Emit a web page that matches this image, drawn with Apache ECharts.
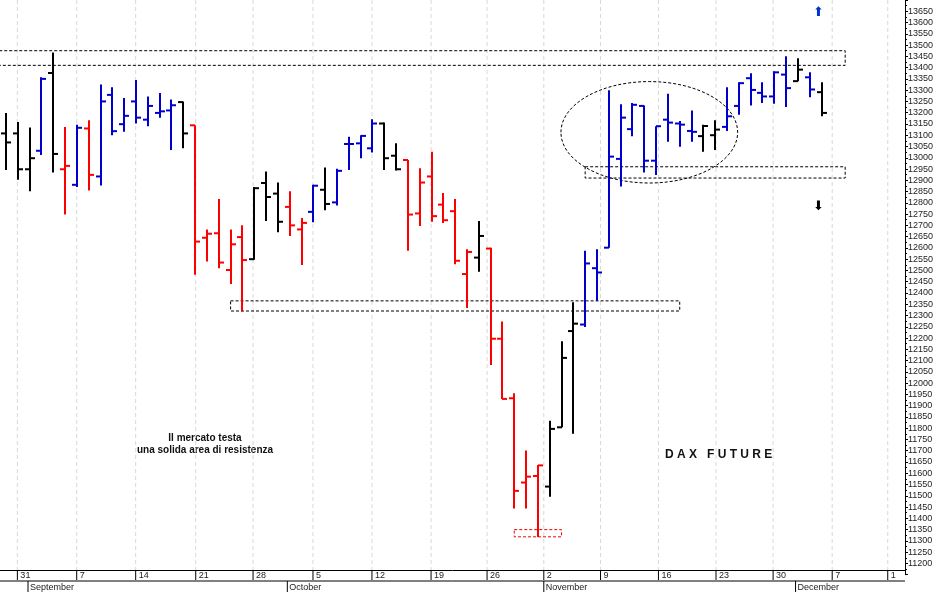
<!DOCTYPE html>
<html><head><meta charset="utf-8">
<script src="https://cdn.jsdelivr.net/npm/echarts@6/dist/echarts.min.js"></script>
<style>html,body{margin:0;padding:0;background:#fff}#c{width:941px;height:592px}</style>
</head><body><div id="c"></div>
<script>
// bar index, open, high, low, close
const opens  = [13108,13108,12949,13031,13376,12949,12880,13130,12917,13279,13149,13250,13169,13199,13210,13247,13144,12645,12665,12502,12648,12550,12888,12841,12782,12682,12760,12858,12802,13061,13064,13042,13152,13009,12990,12753,12917,12792,12763,12484,12557,12597,12197,11933,11559,11588,11541,11804,12231,12260,12510,12601,12995,13127,13230,12987,13169,13152,13119,13096,13100,13137,13230,13353,13288,13272,13369,13340,13357,13291];
const highs  = [13199,13159,13134,13357,13467,13137,13147,13166,13325,13313,13265,13345,13272,13287,13259,13250,13144,12682,12817,12682,12701,12870,12939,12890,12851,12733,12880,12957,12951,13093,13100,13171,13156,13064,12990,12954,13027,12844,12817,12594,12719,12601,12274,11955,11701,11637,11833,12186,12359,12587,12594,13299,13237,13243,13232,13140,13284,13163,13210,13147,13166,13313,13335,13375,13335,13384,13450,13442,13379,13335];
const lows   = [12946,12902,12851,13012,12935,12748,12870,12855,12877,13100,13115,13152,13140,13178,13034,13042,12481,12540,12510,12440,12318,12547,12719,12670,12653,12524,12714,12767,12788,12946,12998,13023,12946,12943,12587,12697,12716,12711,12528,12333,12494,12080,11930,11444,11444,11317,11496,11804,11775,12249,12366,12601,12873,13096,12935,12924,13071,13049,13071,13027,13034,13119,13191,13232,13243,13240,13225,13340,13269,13184];
const closes = [13068,12949,12998,13350,13017,12964,13133,12924,13250,13118,13186,13178,13230,13206,13233,13108,12628,12663,12535,12616,12546,12865,12826,12716,12700,12711,12876,12795,12942,13061,13097,13152,12998,12949,12748,12890,12741,12723,12543,12582,12653,12197,11930,11522,11585,11635,11797,12112,12264,12531,12491,13005,13178,13235,12987,13140,13156,13147,13115,13141,13125,13184,13331,13301,13272,13379,13309,13391,13303,13199];
const trend  = "KKKBKRBRBBBBBBBKRRRRRKKKRRBKBBBBKKRRRRRRKRRRRRKKKBBBBBBBBBBKKBBBBBBKBKK";
const dateTickPos = [0.96,5.98,10.97,16.05,20.9,25.97,30.96,35.96,40.7,45.5,50.3,55.2,60.07,64.9,69.9,74.6];
const dateTickLabels = ["31","7","14","21","28","5","12","19","26","2","9","16","23","30","7","1"];
const monthPos = [1.86,23.8,45.5,66.8];
const monthLabels = ["September","October","November","December"];
// boxes: [i0, i1, vLow, vHigh, colour]
const boxes = [[-1,71,13410,13475,'#000'],[49,71,12910,12960,'#000'],[19,57,12320,12365,'#000'],[43,47,11318,11350,'#e00']];
const ellipse = [46.95,61.9,12888,13338];

const colMap = {K:'#000000',B:'#0000cc',R:'#ff0000'};
const ohlc = opens.map((o,i)=>[i,o,highs[i],lows[i],closes[i],trend[i]]);
const XMIN=-0.51, XMAX=76.06;

const chart = echarts.init(document.getElementById('c'));
chart.setOption({
  animation:false,
  grid:[{left:0,right:36,top:-4.5,bottom:17.3},{left:0,right:36,top:0,bottom:22}],
  xAxis:[{type:'value',min:XMIN,max:XMAX,gridIndex:0,show:false},
         {type:'value',min:XMIN,max:XMAX,gridIndex:1,axisLine:{show:true,onZero:false,lineStyle:{color:'#000'}},axisTick:{show:false},axisLabel:{show:false},splitLine:{show:false}}],
  yAxis:[{type:'value',gridIndex:0,position:'right',min:11150,max:13700,interval:50,
          axisLine:{show:true,onZero:false,lineStyle:{color:'#000'}},axisTick:{show:true,length:3,lineStyle:{color:'#000'}},
          minorTick:{show:true,splitNumber:2,length:2,lineStyle:{color:'#000'}},
          splitLine:{show:false},
          axisLabel:{fontSize:9,fontFamily:'Liberation Sans Narrow, Liberation Sans',color:'#222',margin:3,
            formatter:v=>(v<11200||v>13650)?'':String(v)}},
         {type:'value',gridIndex:1,min:0,max:1,show:false}],
  series:[
    {type:'custom',xAxisIndex:1,yAxisIndex:1,clip:false,silent:true,z:1,
     data:dateTickPos.map((p,k)=>[p,k]),
     renderItem:(params,api)=>{
       const k=api.value(1), a=api.coord([api.value(0),1]), b=api.coord([api.value(0),0]);
       const ch=[{type:'line',shape:{x1:a[0],y1:a[1],x2:b[0],y2:b[1]},style:{stroke:'#d8d8d8',lineWidth:1,lineDash:[4,3]}},
         {type:'line',shape:{x1:b[0],y1:b[1],x2:b[0],y2:b[1]+10},style:{stroke:'#000',lineWidth:1}},
         {type:'text',x:b[0]+3,y:b[1]+1,style:{text:dateTickLabels[k],fontSize:9,fontFamily:'Liberation Sans',fill:'#222'}}];
       if(k===0){ch.push({type:'line',shape:{x1:0,y1:b[1]+11,x2:905,y2:b[1]+11},style:{stroke:'#000',lineWidth:1}});}
       return {type:'group',children:ch};
     }},
    {type:'custom',xAxisIndex:1,yAxisIndex:1,clip:false,silent:true,
     data:monthPos.map((p,k)=>[p,k]),
     renderItem:(params,api)=>{
       const k=api.value(1), b=api.coord([api.value(0),0]);
       return {type:'group',children:[
         {type:'line',shape:{x1:b[0],y1:b[1]+11,x2:b[0],y2:b[1]+22},style:{stroke:'#000',lineWidth:1}},
         {type:'text',x:b[0]+2,y:b[1]+13,style:{text:monthLabels[k],fontSize:9,fontFamily:'Liberation Sans',fill:'#222'}}]};
     }},
    {type:'custom',xAxisIndex:0,yAxisIndex:0,silent:true,z:2,
     data:boxes,
     renderItem:(params,api)=>{
       const b=boxes[params.dataIndex];
       const p=api.coord([b[0],b[3]]), q=api.coord([b[1],b[2]]);
       return {type:'rect',shape:{x:p[0],y:p[1],width:q[0]-p[0],height:q[1]-p[1]},style:{fill:'none',stroke:b[4],lineWidth:1,lineDash:[3,2]}};
     }},
    {type:'custom',xAxisIndex:0,yAxisIndex:0,silent:true,z:2,
     data:[ellipse],
     renderItem:(params,api)=>{
       const p=api.coord([ellipse[0],ellipse[3]]), q=api.coord([ellipse[1],ellipse[2]]);
       return {type:'ellipse',shape:{cx:(p[0]+q[0])/2,cy:(p[1]+q[1])/2,rx:(q[0]-p[0])/2,ry:(q[1]-p[1])/2},style:{fill:'none',stroke:'#000',lineWidth:1,lineDash:[3,2]}};
     }},
    {type:'custom',xAxisIndex:0,yAxisIndex:0,z:3,
     data:ohlc,encode:{x:0,y:[1,2,3,4]},
     renderItem:(params,api)=>{
       const i=api.value(0);
       const o=api.coord([i,api.value(1)]),h=api.coord([i,api.value(2)]),l=api.coord([i,api.value(3)]),c=api.coord([i,api.value(4)]);
       const col=colMap[ohlc[params.dataIndex][5]];
       const st={stroke:col,lineWidth:2};
       const x=Math.round(h[0]);
       return {type:'group',children:[
         {type:'line',shape:{x1:x,y1:h[1],x2:x,y2:l[1]},style:st},
         {type:'line',shape:{x1:x-5,y1:o[1],x2:x,y2:o[1]},style:st},
         {type:'line',shape:{x1:x,y1:c[1],x2:x+5,y2:c[1]},style:st}]};
     }}
  ],
  graphic:[
    {type:'text',x:205,y:432,style:{text:'Il mercato testa\nuna solida area di resistenza',align:'center',fontSize:10,fontWeight:'bold',fontFamily:'Liberation Sans Narrow, Liberation Sans',fill:'#111',lineHeight:12}},
    {type:'text',x:665,y:449,style:{text:'D A X   F U T U R E',fontSize:12,fontWeight:'bold',fontFamily:'Liberation Sans',fill:'#111'}},
    {type:'text',x:813,y:6,style:{text:'⬆',fontSize:13,fill:'#0033cc',fontFamily:'DejaVu Sans'}},
    {type:'text',x:813,y:200,style:{text:'⬇',fontSize:13,fill:'#000',fontFamily:'DejaVu Sans'}}
  ]
});
</script></body></html>
